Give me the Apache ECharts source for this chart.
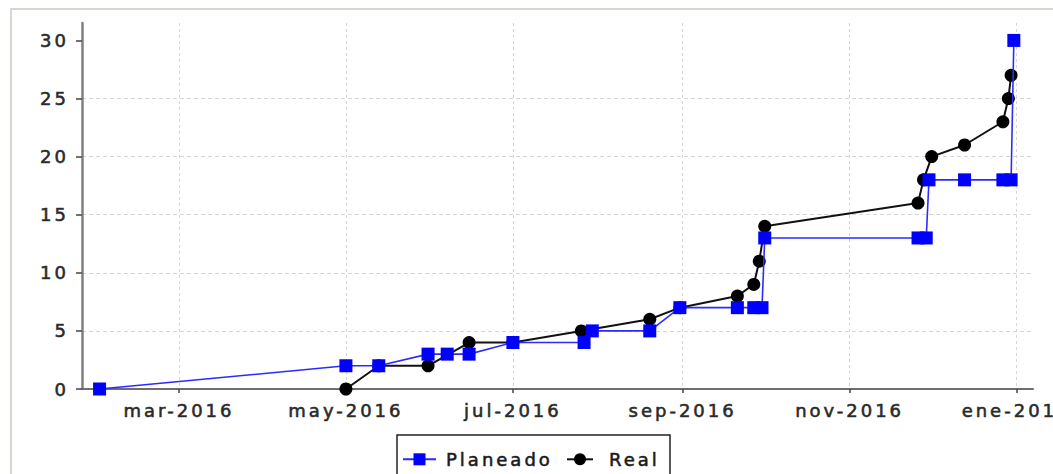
<!DOCTYPE html>
<html>
<head>
<meta charset="utf-8">
<script src="https://cdn.jsdelivr.net/npm/echarts@6/dist/echarts.min.js"></script>
<style>
  html, body { margin: 0; padding: 0; background: #ffffff; }
  #chart { width: 1053px; height: 474px; letter-spacing: 3px; }
</style>
</head>
<body>
<div id="chart"></div>
<script>
// Planeado (planned) series
const planDates = ['2016-02-01', '2016-05-01', '2016-05-13', '2016-05-31', '2016-06-07', '2016-06-15',
  '2016-07-01', '2016-07-27', '2016-07-30', '2016-08-20', '2016-08-31', '2016-09-21', '2016-09-27',
  '2016-09-30', '2016-10-01', '2016-11-26', '2016-11-29', '2016-11-30', '2016-12-13', '2016-12-27',
  '2016-12-30', '2016-12-31'];
const planValues = [0, 2, 2, 3, 3, 3, 4, 4, 5, 5, 7, 7, 7, 7, 13, 13, 13, 18, 18, 18, 18, 30];

// Real (actual) series
const realDates = ['2016-05-01', '2016-05-13', '2016-05-31', '2016-06-15', '2016-07-01', '2016-07-26',
  '2016-08-20', '2016-08-31', '2016-09-21', '2016-09-27', '2016-09-29', '2016-10-01', '2016-11-26',
  '2016-11-28', '2016-12-01', '2016-12-13', '2016-12-27', '2016-12-29', '2016-12-30'];
const realValues = [0, 2, 2, 4, 4, 5, 6, 7, 8, 9, 11, 14, 16, 18, 20, 21, 23, 25, 27];

// Axis ticks
const xTickDates = ['2016-03-01', '2016-05-01', '2016-07-01', '2016-09-01', '2016-11-01', '2017-01-01'];
const xTickLabels = ['mar-2016', 'may-2016', 'jul-2016', 'sep-2016', 'nov-2016', 'ene-2017'];
const yTicks = [0, 5, 10, 15, 20, 25, 30];
const seriesNames = ['Planeado', 'Real'];

const toTs = s => { const p = s.split('-').map(Number); return new Date(p[0], p[1] - 1, p[2]).getTime(); };
const xTickTs = xTickDates.map(toTs);

const planData = planDates.map((d, i) => [toTs(d), planValues[i]]);
const realData = realDates.map((d, i) => [toTs(d), realValues[i]]);

const font = 'DejaVu Sans';
const txt = { fontFamily: font, fontSize: 18, color: '#2a2a2a', textBorderColor: '#3a3a3a', textBorderWidth: 0.6 };
const chart = echarts.init(document.getElementById('chart'), null, { renderer: 'svg' });

chart.setOption({
  backgroundColor: '#ffffff',
  animation: false,
  graphic: [
    { type: 'rect', shape: { x: 11, y: 9, width: 1200, height: 600 },
      style: { fill: 'none', stroke: '#d9d6cf', lineWidth: 2 }, z: 0, silent: true },
    { type: 'rect', shape: { x: 397, y: 435, width: 273, height: 80 },
      style: { fill: '#ffffff', stroke: '#222222', lineWidth: 1.5 }, z: 1, silent: true }
  ],
  grid: { left: 82, right: 20, top: 23, bottom: 85, outerBoundsMode: 'none', containLabel: false },
  legend: [
    { data: [seriesNames[0]], left: 402, top: 450, padding: 0, itemWidth: 33, itemHeight: 15, itemGap: 0,
      textStyle: Object.assign({}, txt, { color: '#1a1a1a', padding: [0, 0, 0, 5] }), z: 5 },
    { data: [seriesNames[1]], left: 566, top: 450, padding: 0, itemWidth: 26, itemHeight: 15, itemGap: 0,
      textStyle: Object.assign({}, txt, { color: '#1a1a1a', padding: [0, 0, 0, 11] }), z: 5 }
  ],
  xAxis: {
    type: 'value',
    scale: true,
    min: new Date(2016, 0, 25, 14, 0).getTime(),
    max: new Date(2017, 0, 7, 0, 0).getTime(),
    axisLine: { show: true, onZero: true, lineStyle: { color: '#6f6f6f', width: 2 } },
    axisTick: { show: true, length: 4, customValues: xTickTs, lineStyle: { color: '#444', width: 1.5 } },
    axisLabel: Object.assign({
      customValues: xTickTs,
      margin: 12,
      formatter: v => { const i = xTickTs.indexOf(v); return i >= 0 ? xTickLabels[i] : ''; }
    }, txt),
    splitLine: { show: true, lineStyle: { color: '#d6d6d6', type: [3, 3], width: 1 } }
  },
  yAxis: {
    type: 'value',
    min: 0,
    max: 31.5,
    axisLine: { show: true, lineStyle: { color: '#808080', width: 2.5 } },
    axisTick: { show: true, length: 6, customValues: yTicks, lineStyle: { color: '#444', width: 1.5 } },
    axisLabel: Object.assign({ customValues: yTicks, margin: 13 }, txt),
    splitLine: { show: true, showMaxLine: false, lineStyle: { color: '#d6d6d6', type: [4, 3], width: 1 } }
  },
  series: [
    {
      name: seriesNames[0], type: 'line', data: planData, z: 4,
      symbol: 'rect', symbolSize: 13,
      itemStyle: { color: '#0000ff' },
      lineStyle: { color: '#2b2bff', width: 1.6 }
    },
    {
      name: seriesNames[1], type: 'line', data: realData, z: 3,
      symbol: 'circle', symbolSize: 13,
      itemStyle: { color: '#000000' },
      lineStyle: { color: '#111111', width: 2 }
    }
  ]
});
</script>
</body>
</html>
